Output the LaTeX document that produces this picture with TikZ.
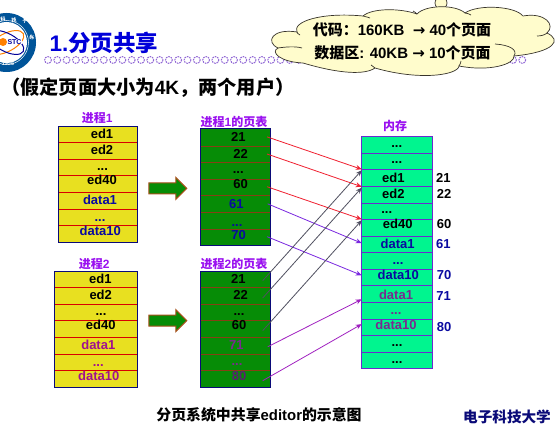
\documentclass[tikz,border=0pt]{standalone}
\usepackage{fontspec}
\setmainfont{Liberation Sans}
\newfontfamily\cjk{Noto Sans CJK SC}
\newcommand{\C}[1]{{\cjk\bfseries #1}}
\newcommand{\tdots}{{.}{.}{.}}
\definecolor{cyel}{HTML}{E8E020}
\definecolor{cgrn}{HTML}{068C06}
\definecolor{cmem}{HTML}{00F58F}
\definecolor{cnavy}{HTML}{0A0A78}
\definecolor{cbord}{HTML}{6A2AD0}
\definecolor{clab}{HTML}{9A10F0}
\definecolor{cdat}{HTML}{0A0AA0}
\definecolor{cdatb}{HTML}{A01090}
\definecolor{cdatc}{HTML}{7A2A90}
\definecolor{cdatd}{HTML}{5A2070}
\definecolor{cred}{HTML}{F02030}
\definecolor{cpur}{HTML}{7A28E0}
\definecolor{cmag}{HTML}{A020C0}
\definecolor{cgry}{HTML}{505060}
\definecolor{cbrn}{HTML}{A8501A}
\usetikzlibrary{arrows.meta,shapes.arrows}
\tikzset{
  x=1pt,y=-1pt,
  cellbox/.style={anchor=north west,inner sep=0pt,outer sep=0pt,draw=none},
  txt/.style={anchor=base,inner sep=0pt,font=\bfseries\fontsize{13}{13}\selectfont},
  lab/.style={inner sep=0pt,text=clab,font=\fontsize{12}{12}\selectfont},
  yline/.style={draw=red!85!black,line width=.8pt},
  gline/.style={draw=cbrn!80!black,line width=.9pt},
  mline/.style={draw=cbord,line width=.8pt},
  outerbox/.style={line width=1pt},
  conn/.style={-{Stealth[length=6pt,width=5pt]},line width=.8pt},
  bigarrow/.style={single arrow,draw=cbrn,fill=cgrn,line width=1pt,
     minimum height=38pt,single arrow head extend=5.5pt,
     single arrow head indent=0pt,inner sep=0pt},
  cloudline/.style={draw=black!80!olive,line width=.7pt},
}
% name, fill, x, width, top, bottom
\newcommand{\mkcell}[6]{%
  \pgfmathsetmacro{\hh}{#6-(#5)}%
  \node[cellbox,fill=#2,minimum width=#4pt,minimum height=\hh pt] (#1) at (#3,#5) {};}
\begin{document}
\begin{tikzpicture}
\clip (0,0) rectangle (557,427);
\fill[white] (0,0) rectangle (557,427);

% logo
\fill[blue!45!cyan!60!black] (6.5,42.5) circle (29.5);
\draw[white,line width=.5pt] (6.5,42.5) circle (22);
\fill[white] (6.5,42.5) circle (20.5);
\draw[orange,line width=1pt,rotate around={28:(6.5,42.5)}] (6.5,42.5) ellipse (19 and 9);
\draw[blue!60!black,line width=1pt,rotate around={-28:(6.5,42.5)}] (6.5,42.5) ellipse (19 and 9);
\fill[orange] (3,42) circle (4);
\node[inner sep=0pt,fill=white,text=blue!60!black,font=\bfseries\fontsize{7}{7}\selectfont] (logotext) at (14.5,41.7) {STC};
\node[inner sep=0pt,text=white,font=\bfseries\itshape\fontsize{5.5}{5.5}\selectfont] (logoyear) at (8,64) {1956};
\node[inner sep=0pt,text=white,rotate=10,font=\fontsize{5}{5}\selectfont] (logoa) at (3,19.5) {\C{科}};
\node[inner sep=0pt,text=white,rotate=10,font=\fontsize{5}{5}\selectfont] (logob) at (14,20.5) {\C{技}};
\node[inner sep=0pt,text=white,rotate=30,font=\fontsize{5}{5}\selectfont] (logoc) at (25,21) {\C{大}};
\node[inner sep=0pt,text=white,rotate=75,font=\fontsize{5}{5}\selectfont] (logod) at (32,38) {\C{学}};

% dotted rule of small circles
\foreach \i in {0,...,51} {
  \draw[draw=blue!45!violet!60,line width=1pt,dash pattern=on 1.6pt off .9pt] (48+\i*9.3,60) circle (3.4);
}

% title
\node[anchor=west,inner sep=0pt,text=blue!85!black,font=\fontsize{22.5}{23}\selectfont] (title) at (49.5,43) {\textbf{1.}\C{分页共享}};
\node[anchor=west,inner sep=0pt,text=black,font=\fontsize{19.2}{20}\selectfont] (subtitle) at (1,87.5) {\C{（假定页面大小为}\textbf{4K}\C{，两个用户）}};

% callout
\draw[cloudline,fill=yellow!20] (441,3) circle (6);
\draw[cloudline,fill=yellow!20]
  (297,32) .. controls (292,22) and (320,12) .. (363,16)
  .. controls (372,8) and (400,8) .. (417,14)
  .. controls (425,5) and (455,4) .. (465,13)
  .. controls (478,4) and (515,6) .. (523,16)
  .. controls (545,12) and (556,25) .. (547,33)
  .. controls (562,40) and (555,52) .. (514,56)
  .. controls (515,64) and (490,72) .. (459,66)
  .. controls (458,75) and (420,81) .. (375,68)
  .. controls (365,75) and (340,74) .. (303,63)
  .. controls (280,62) and (270,52) .. (278,48)
  .. controls (265,42) and (272,28) .. (297,32) -- cycle;
\draw[cloudline] (278,48) .. controls (285,47) and (295,46) .. (302,48);
\draw[cloudline] (547,33) .. controls (545,35) and (541,36) .. (537,36);
\draw[cloudline] (495,44) .. controls (510,45) and (518,50) .. (514,56);
\draw[cloudline] (297,32) .. controls (297,33) and (298,34) .. (300,35);
\draw[cloudline] (363,16) .. controls (366,17) and (368,17) .. (370,18);
\draw[cloudline] (417,14) .. controls (416,13) and (415,12) .. (413,11);
\draw[cloudline] (465,13) .. controls (467,13) and (469,14) .. (471,15);
\draw[cloudline] (459,66) .. controls (460,64) and (461,63) .. (461,61);
\draw[cloudline] (375,68) .. controls (374,67) and (372,66) .. (371,65);
\node[inner sep=0pt,font=\bfseries\fontsize{15}{15}\selectfont] (cloudone) at (402,30) {\C{代码：}160KB\ \ {\fontspec{DejaVu Sans}\bfseries →}\ 40\C{个页面}};
\node[inner sep=0pt,font=\bfseries\fontsize{15}{15}\selectfont] (cloudtwo) at (402.5,52.5) {\C{数据区}: 40KB {\fontspec{DejaVu Sans}\bfseries →} 10\C{个页面}};

% labels
\node[lab] (lp1) at (97.3,118.3) {\C{进程}\textbf{1}};
\node[lab] (lt1) at (234,121.7) {\C{进程}\textbf{1}\C{的页表}};
\node[lab] (lp2) at (94.3,264) {\C{进程}\textbf{2}};
\node[lab] (lt2) at (234,264) {\C{进程}\textbf{2}\C{的页表}};
\node[lab] (lm) at (395,126) {\C{内存}};

% process 1
\mkcell{pa1}{cyel}{58}{79.5}{126.3}{142.3}
\mkcell{pa2}{cyel}{58}{79.5}{142.3}{159.3}
\mkcell{pa3}{cyel}{58}{79.5}{159.3}{175.3}
\mkcell{pa4}{cyel}{58}{79.5}{175.3}{192.3}
\mkcell{pa5}{cyel}{58}{79.5}{192.3}{209.3}
\mkcell{pa6}{cyel}{58}{79.5}{209.3}{225.3}
\mkcell{pa7}{cyel}{58}{79.5}{225.3}{242.3}
\foreach \i in {1,...,6} \draw[yline] (pa\i.south west) -- (pa\i.south east);
\draw[cnavy,outerbox] (pa1.north west) rectangle (pa7.south east);

% process 2
\mkcell{pb1}{cyel}{54.3}{83.2}{271.3}{287.3}
\mkcell{pb2}{cyel}{54.3}{83.2}{287.3}{304.3}
\mkcell{pb3}{cyel}{54.3}{83.2}{304.3}{320.3}
\mkcell{pb4}{cyel}{54.3}{83.2}{320.3}{337.3}
\mkcell{pb5}{cyel}{54.3}{83.2}{337.3}{354.3}
\mkcell{pb6}{cyel}{54.3}{83.2}{354.3}{370.3}
\mkcell{pb7}{cyel}{54.3}{83.2}{370.3}{387.3}
\foreach \i in {1,...,6} \draw[yline] (pb\i.south west) -- (pb\i.south east);
\draw[cnavy,outerbox] (pb1.north west) rectangle (pb7.south east);

% page table 1
\mkcell{ta1}{cgrn}{200.3}{70.4}{129}{146.7}
\mkcell{ta2}{cgrn}{200.3}{70.4}{146.7}{162.7}
\mkcell{ta3}{cgrn}{200.3}{70.4}{162.7}{179}
\mkcell{ta4}{cgrn}{200.3}{70.4}{179}{195}
\mkcell{ta5}{cgrn}{200.3}{70.4}{195}{212.7}
\mkcell{ta6}{cgrn}{200.3}{70.4}{212.7}{229}
\mkcell{ta7}{cgrn}{200.3}{70.4}{229}{245.3}
\foreach \i in {1,...,6} \draw[gline] (ta\i.south west) -- (ta\i.south east);
\draw[cnavy,outerbox] (ta1.north west) rectangle (ta7.south east);

% page table 2
\mkcell{tb1}{cgrn}{200.3}{70.4}{271.3}{287.3}
\mkcell{tb2}{cgrn}{200.3}{70.4}{287.3}{304.3}
\mkcell{tb3}{cgrn}{200.3}{70.4}{304.3}{320.3}
\mkcell{tb4}{cgrn}{200.3}{70.4}{320.3}{337.3}
\mkcell{tb5}{cgrn}{200.3}{70.4}{337.3}{354.3}
\mkcell{tb6}{cgrn}{200.3}{70.4}{354.3}{370.3}
\mkcell{tb7}{cgrn}{200.3}{70.4}{370.3}{387.3}
\foreach \i in {1,...,6} \draw[gline] (tb\i.south west) -- (tb\i.south east);
\draw[cnavy,outerbox] (tb1.north west) rectangle (tb7.south east);

% memory
\mkcell{m1}{cmem}{361.7}{70.6}{136.7}{153.3}
\mkcell{m2}{cmem}{361.7}{70.6}{153.3}{169.3}
\mkcell{m3}{cmem}{361.7}{70.6}{169.3}{186.7}
\mkcell{m4}{cmem}{361.7}{70.6}{186.7}{203.3}
\mkcell{m5}{cmem}{361.7}{70.6}{203.3}{219.3}
\mkcell{m6}{cmem}{361.7}{70.6}{219.3}{236.7}
\mkcell{m7}{cmem}{361.7}{70.6}{236.7}{252.7}
\mkcell{m8}{cmem}{361.7}{70.6}{252.7}{269.3}
\mkcell{m9}{cmem}{361.7}{70.6}{269.3}{285.3}
\mkcell{m10}{cmem}{361.7}{70.6}{285.3}{302.3}
\mkcell{m11}{cmem}{361.7}{70.6}{302.3}{319}
\mkcell{m12}{cmem}{361.7}{70.6}{319}{335.3}
\mkcell{m13}{cmem}{361.7}{70.6}{335.3}{352.3}
\mkcell{m14}{cmem}{361.7}{70.6}{352.3}{368.3}
\foreach \i in {1,...,13} \draw[mline] (m\i.south west) -- (m\i.south east);
\draw[cbord,outerbox] (m1.north west) rectangle (m14.south east);

% cell texts: process 1
\foreach \n/\xx/\yy/\ss/\cc in {a/102/139/ed1/black,b/102/155/ed2/black,c/102.5/170.5/\tdots/black,d/102/185/ed40/black,e/100/205/data1/cdat,f/100/221.7/\tdots/cdat,g/100.3/235.7/data10/cdat}
  \node[txt,text=\cc] (tpa\n) at (\xx,\yy) {\ss};
% process 2
\foreach \n/\xx/\yy/\ss/\cc in {a/100.3/284/ed1/black,b/100.7/300/ed2/black,c/101/315.5/\tdots/black,d/100.7/330/ed40/black,e/98.3/350/data1/cdatb,f/98.3/366.7/\tdots/cdatb,g/98.7/380.7/data10/cdatb}
  \node[txt,text=\cc] (tpb\n) at (\xx,\yy) {\ss};
% page table 1
\foreach \n/\xx/\yy/\ss/\cc in {a/238.3/141.7/21/black,b/240.5/158.3/22/black,c/238.3/174/\tdots/black,d/240.7/188.3/60/black,e/236.3/209/61/cdat,f/237/226.7/\tdots/cdat,g/238.7/240/70/cdat}
  \node[txt,text=\cc] (tta\n) at (\xx,\yy) {\ss};
% page table 2
\foreach \n/\xx/\yy/\ss/\cc in {a/238.3/284/21/black,b/240.7/300/22/black,c/239/315.5/\tdots/black,d/239/330/60/black,e/236.3/350/71/cdatc,f/237/365.7/\tdots/cdatc,g/239/380.7/80/cdatd}
  \node[txt,text=\cc] (ttb\n) at (\xx,\yy) {\ss};
% memory
\foreach \n/\xx/\yy/\ss/\cc in {a/396.7/147.3/\tdots/black,b/396.7/163.3/\tdots/black,c/393.3/182.7/ed1/black,d/393.3/198.3/ed2/black,e/386.7/214/\tdots/black,f/397.7/228.3/ed40/black,g/397.7/248.3/data1/cdat,h/398/265/\tdots/cdat,i/398.3/279.3/data10/cdat,j/396/299.3/data1/cdatc,k/396/315/\tdots/cdatc,l/396/330/data10/cdatc,m/397/346.7/\tdots/black,n/397/363.3/\tdots/black}
  \node[txt,text=\cc] (tm\n) at (\xx,\yy) {\ss};
% frame numbers
\foreach \n/\xx/\yy/\ss/\cc in {a/443.3/182.7/21/black,b/444/198.3/22/black,c/444/228.3/60/black,d/443.3/248.3/61/cdat,e/444/279.3/70/cdat,f/443.5/301/71/cdat,g/444/331.7/80/cdat}
  \node[txt,text=\cc] (fr\n) at (\xx,\yy) {\ss};

% big arrows
\node[bigarrow] (arra) at (165,188.3) {\rule{0pt}{10pt}};
\node[bigarrow] (arrb) at (165,320.7) {\rule{0pt}{10pt}};

% connectors
\draw[conn,cred] ([xshift=-3.7pt,yshift=1pt]ta1.east) -- (m3.north west);
\draw[conn,cred] ([xshift=-3.7pt,yshift=.7pt]ta2.east) -- (m4.north west);
\draw[conn,cred] ([xshift=-3.7pt,yshift=.3pt]ta4.east) -- (m6.north west);
\draw[conn,cpur] ([xshift=-3pt]ta5.east) -- ([yshift=1.5pt]m7.west);
\draw[conn,cpur] ([xshift=-3.7pt,yshift=.5pt]ta7.east) -- ([yshift=2pt]m9.west);
\draw[conn,cgry] ([xshift=-8pt,yshift=-1.4pt]tb1.east) -- ([yshift=-1pt]m3.north west);
\draw[conn,cgry] ([xshift=-8pt,yshift=-2.2pt]tb2.east) -- ([yshift=-1pt]m4.north west);
\draw[conn,cgry] ([xshift=-8pt,yshift=-1.9pt]tb4.east) -- ([yshift=-1pt]m6.north west);
\draw[conn,cmag] ([xshift=-3pt,yshift=-1pt]tb5.east) -- ([yshift=3pt]m10.south west);
\draw[conn,cmag] ([xshift=-8pt,yshift=-1.9pt]tb7.east) -- ([yshift=3pt]m12.west);

% captions
\node[inner sep=0pt,font=\fontsize{14.9}{15}\selectfont] (cap) at (259,415) {\C{分页系统中共享}\textbf{editor}\C{的示意图}};
\node[inner sep=0pt,text=cnavy,font=\fontsize{14.6}{15}\selectfont] (uni) at (507,417) {\C{电子科技大学}};
\end{tikzpicture}
\end{document}
